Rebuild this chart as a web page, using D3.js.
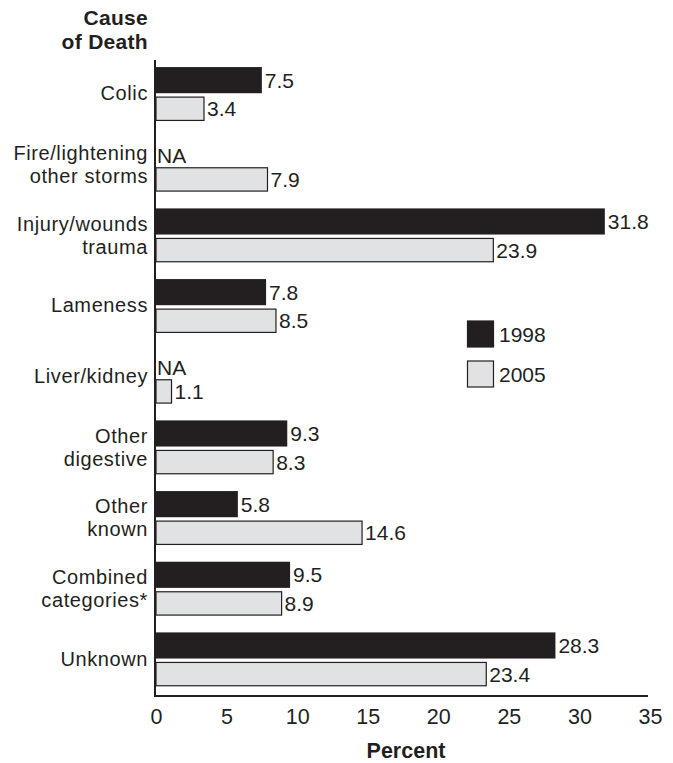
<!DOCTYPE html>
<html>
<head>
<meta charset="utf-8">
<script src="https://cdn.jsdelivr.net/npm/d3@7"></script>
<style>
  html, body { margin: 0; padding: 0; background: #fff; }
  svg { display: block; }
  text { font-family: "Liberation Sans", Arial, Helvetica, sans-serif; fill: #231f20; }
</style>
</head>
<body>
<svg id="chart" width="673" height="763"></svg>
<script>
const categories = [
  ["Colic"],
  ["Fire/lightening", "other storms"],
  ["Injury/wounds", "trauma"],
  ["Lameness"],
  ["Liver/kidney"],
  ["Other", "digestive"],
  ["Other", "known"],
  ["Combined", "categories*"],
  ["Unknown"]
];
const values1998 = [7.5, null, 31.8, 7.8, null, 9.3, 5.8, 9.5, 28.3];
const values2005 = [3.4, 7.9, 23.9, 8.5, 1.1, 8.3, 14.6, 8.9, 23.4];
const seriesNames = ["1998", "2005"];
const xTicks = [0, 5, 10, 15, 20, 25, 30, 35];

const dark = "#231f20", light = "#e1e2e3";
const FS = "21px";
const svg = d3.select("#chart");

const x = d3.scaleLinear().domain([0, 35]).range([156, 650]);
const y = d3.scaleBand().domain(d3.range(categories.length)).range([60, 696]).padding(0);
const bw = y.bandwidth();

// bars
const g = svg.append("g");
categories.forEach((c, i) => {
  const y0 = y(i);
  const v1 = values1998[i], v2 = values2005[i];
  const d1 = y0 + bw * 0.1, h1 = bw * 0.37;
  const d2 = y0 + bw * 0.525, h2 = bw * 0.33;
  if (v1 != null) {
    g.append("rect").attr("x", x(0)).attr("y", d1).attr("width", x(v1) - x(0)).attr("height", h1)
      .attr("fill", dark);
    g.append("text").attr("x", x(v1) + 3).attr("y", d1 + h1 / 2).attr("dy", "0.36em")
      .style("font-size", FS).text(v1.toFixed(1));
  } else {
    g.append("text").attr("x", x(0) + 1).attr("y", d1 + h1 - 1)
      .style("font-size", FS).text("NA");
  }
  g.append("rect").attr("x", x(0)).attr("y", d2).attr("width", x(v2) - x(0)).attr("height", h2)
    .attr("fill", light).attr("stroke", dark).attr("stroke-width", 1.2);
  g.append("text").attr("x", x(v2) + 3).attr("y", d2 + h2 / 2).attr("dy", "0.36em")
    .style("font-size", FS).text(v2.toFixed(1));

  // category labels
  const cy = y0 + bw / 2;
  const lines = c.length === 1 ? [cy + 5] : [cy - 6, cy + 17];
  c.forEach((line, k) => {
    svg.append("text").attr("text-anchor", "end").attr("x", 148).attr("y", lines[k])
      .style("font-size", "20px").style("letter-spacing", "0.6px").text(line);
  });
});

// axes lines
svg.append("line").attr("x1", x(0) - 1).attr("x2", x(0) - 1).attr("y1", 60).attr("y2", 697)
  .attr("stroke", dark).attr("stroke-width", 2);
svg.append("line").attr("x1", x(0) - 2).attr("x2", x(35) - 2).attr("y1", 696).attr("y2", 696)
  .attr("stroke", dark).attr("stroke-width", 2);

// x tick labels via axis
const xAxis = d3.axisBottom(x).tickValues(xTicks).tickSize(0).tickPadding(0).tickFormat(d3.format("d"));
const ax = svg.append("g").attr("transform", "translate(0,708)").call(xAxis);
ax.select(".domain").remove();
ax.selectAll("text").attr("dy", "0.73em").style("font-size", "21.5px")
  .style("font-family", "'Liberation Sans', Arial, sans-serif").attr("fill", dark);

// titles
svg.append("text").attr("text-anchor", "end").attr("x", 148).attr("y", 25)
  .style("font-size", "21px").style("font-weight", "bold").style("letter-spacing", "0.3px").text("Cause");
svg.append("text").attr("text-anchor", "end").attr("x", 148).attr("y", 49)
  .style("font-size", "21px").style("font-weight", "bold").style("letter-spacing", "0.3px").text("of Death");
svg.append("text").attr("text-anchor", "middle").attr("x", 406).attr("y", 758)
  .style("font-size", "21.5px").style("font-weight", "bold").text("Percent");

// legend
const leg = svg.append("g");
seriesNames.forEach((s, i) => {
  const ly = 321 + i * 40;
  leg.append("rect").attr("x", 467.5).attr("y", ly).attr("width", 26).attr("height", 26)
    .attr("fill", i === 0 ? dark : light).attr("stroke", dark).attr("stroke-width", 1.2);
  leg.append("text").attr("x", 499).attr("y", ly + 13).attr("dy", "0.36em")
    .style("font-size", FS).text(s);
});
</script>
</body>
</html>
